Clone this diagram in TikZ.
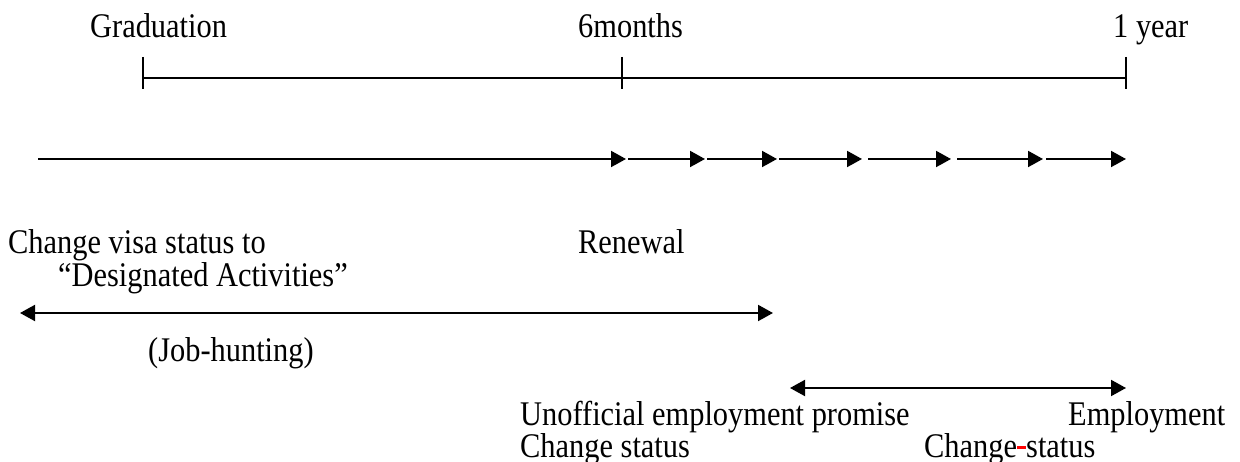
\documentclass[tikz,border=0pt]{standalone}
\usepackage{fontspec}
\setmainfont{Liberation Serif}
\usetikzlibrary{arrows.meta}
\newcommand\tx[1]{\scalebox{0.95}[1.08]{#1}}
\begin{document}
\begin{tikzpicture}[x=1pt,y=-1pt,
  lbl/.style={font=\fontsize{32}{38}\selectfont, inner sep=0pt, anchor=base west},
  ln/.style={line width=2pt},
  arr/.style={ln,-{Triangle[length=15pt,width=16pt]}},
  darr/.style={ln,{Triangle[length=15pt,width=16pt]}-{Triangle[length=15pt,width=16pt]}}]
\useasboundingbox (0,0) rectangle (1240,462);
% top labels
\node[lbl] (grad) at (90,38) {\tx{Graduation}};
\node[lbl] (six) at (578,38) {\tx{6months}};
\node[lbl] (year) at (1113,38) {\tx{1 year}};
% time line
\coordinate (t0) at (143,78);
\coordinate (t1) at (622,78);
\coordinate (t2) at (1126,78);
\draw[ln] (t0) -- (t2);
\foreach \t in {t0,t1,t2} \draw[ln] (\t) ++(0,-21) -- ++(0,32);
% arrow chain
\coordinate (a0) at (38,159);
\coordinate (a1) at (626,159);
\coordinate (a2) at (705,159);
\coordinate (a3) at (777,159);
\coordinate (a4) at (862,159);
\coordinate (a5) at (951,159);
\coordinate (a6) at (1043,159);
\coordinate (a7) at (1126,159);
\draw[arr] (a0) -- (a1);
\draw[arr] ([xshift=2pt]a1) -- (a2);
\draw[arr] ([xshift=2pt]a2) -- (a3);
\draw[arr] ([xshift=2pt]a3) -- (a4);
\draw[arr] ([xshift=6pt]a4) -- (a5);
\draw[arr] ([xshift=6pt]a5) -- (a6);
\draw[arr] ([xshift=3pt]a6) -- (a7);
% labels middle
\node[lbl] (chg) at (8,254) {\tx{Change visa status to}};
\node[lbl] (ren) at (578,254) {\tx{Renewal}};
\node[lbl] (des) at (58,287) {\tx{“Designated Activities”}};
% job hunting
\coordinate (j0) at (20,313);
\coordinate (j1) at (773,313);
\draw[darr] (j0) -- (j1);
\node[lbl] (job) at (148,362) {\tx{(Job-hunting)}};
% employment
\coordinate (e0) at (790,388);
\coordinate (e1) at (1126,388);
\draw[darr] (e0) -- (e1);
\node[lbl] (uep) at (520,425) {\tx{Unofficial employment promise}};
\node[lbl] (emp) at (1068,425) {\tx{Employment}};
\node[lbl] (cs1) at (520,457) {\tx{Change status}};
\node[lbl] (cs2) at (924,457) {\tx{Change\textcolor{red}{\rule[0.24em]{0.3em}{0.07em}}status}};
\end{tikzpicture}
\end{document}
